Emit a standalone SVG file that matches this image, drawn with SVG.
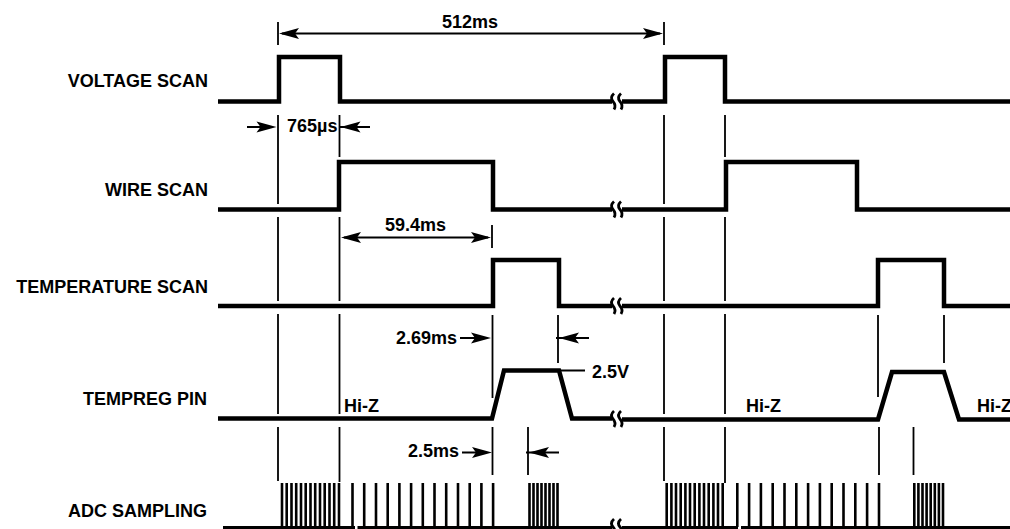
<svg xmlns="http://www.w3.org/2000/svg" width="1010" height="529" viewBox="0 0 1010 529">
<style>
text{font-family:"Liberation Sans",Arial,Helvetica,sans-serif;font-weight:bold;font-size:18px;fill:#000}
.lbl{text-anchor:end}
.sig{fill:none;stroke:#000;stroke-width:4.5;stroke-linejoin:miter;stroke-linecap:butt}
.adc{fill:none;stroke:#000;stroke-width:3}
.tick{fill:none;stroke:#000;stroke-width:2.6}
.guide{fill:none;stroke:#000;stroke-width:1.8}
.dim{fill:none;stroke:#000;stroke-width:2}
</style>
<defs>
<path id="ah" d="M0,0 L-20,-5.5 L-16,0 L-20,5.5 Z" fill="#000"/>
<path id="sq" d="M1,-8 q-4.5,4 -1,8 t1,8" fill="none" stroke="#000" stroke-width="2.8"/>
</defs>

<g id="labels">
<text class="lbl" x="208" y="87">VOLTAGE SCAN</text>
<text class="lbl" x="208" y="196">WIRE SCAN</text>
<text class="lbl" x="208" y="293">TEMPERATURE SCAN</text>
<text class="lbl" x="207" y="405">TEMPREG PIN</text>
<text class="lbl" x="207" y="517">ADC SAMPLING</text>
</g>

<g id="voltage-scan">
<path class="sig" d="M218,101.5 H279 V57 H340 V101.5 H612 M622,101.5 H665 V57 H725 V101.5 H1010"/>
<use href="#sq" x="613" y="101.5"/><use href="#sq" x="620" y="101.5"/>
</g>

<g id="wire-scan">
<path class="sig" d="M218,209.5 H339 V162 H493 V209.5 H612 M622,209.5 H726 V162 H857 V209.5 H1010"/>
<use href="#sq" x="613" y="209.5"/><use href="#sq" x="620" y="209.5"/>
</g>

<g id="temperature-scan">
<path class="sig" d="M218,306 H493 V260 H559 V306 H612 M622,306 H878 V260 H944 V306 H1010"/>
<use href="#sq" x="613" y="306"/><use href="#sq" x="620" y="306"/>
</g>

<g id="tempreg-pin">
<path class="sig" d="M218,418.5 H492 L504,370.5 H559 L572,418.5 H612 M622,419.5 H878 L892,372 H944 L959,419.5 H1010"/>
<use href="#sq" x="613" y="419"/><use href="#sq" x="620" y="419"/>
<text x="344" y="412">Hi-Z</text>
<text x="746" y="412">Hi-Z</text>
<text x="977" y="412">Hi-Z</text>
<path class="dim" d="M560,370.5 H585"/>
<text x="592" y="378">2.5V</text>
</g>

<g id="adc-sampling">
<path class="adc" d="M223,527.5 H355 M357.5,527.5 H612 M622,527.5 H738 M741,527.5 H1010"/>
<path class="tick" d="M282,483V527 M286.7,483V527 M291.5,483V527 M296.2,483V527 M301,483V527 M305.7,483V527 M310.5,483V527 M315.2,483V527 M320,483V527 M324.7,483V527 M329.5,483V527 M334.2,483V527 M339,483V527
M352.5,483V527 M364.2,483V527 M376,483V527 M387.7,483V527 M399.4,483V527 M411.1,483V527 M422.8,483V527 M434.5,483V527 M446.2,483V527 M458,483V527 M469.7,483V527 M481.4,483V527 M493.1,483V527
M529.5,483V527 M533.5,483V527 M537.5,483V527 M541.5,483V527 M545.5,483V527 M549.5,483V527 M553.5,483V527 M557.5,483V527
M666.7,483V527 M671.4,483V527 M676,483V527 M680.7,483V527 M685.4,483V527 M690,483V527 M694.7,483V527 M699.4,483V527 M704,483V527 M708.7,483V527 M713.4,483V527 M718,483V527 M722.7,483V527
M737.3,483V527 M749.1,483V527 M760.9,483V527 M772.7,483V527 M784.5,483V527 M796.3,483V527 M808.1,483V527 M819.9,483V527 M831.7,483V527 M843.5,483V527 M855.3,483V527 M867.1,483V527 M879,483V527
M914.3,483V527 M918.4,483V527 M922.5,483V527 M926.6,483V527 M930.7,483V527 M934.8,483V527 M938.9,483V527 M943,483V527"/>
<use href="#sq" x="613" y="527"/><use href="#sq" x="620" y="527"/>
</g>

<g id="connectors">
<path class="guide" d="M278,22V45 M664,22V45
M278,115V204 M278,217V301 M278,314V414 M278,427V481
M339.5,115V157 M339.5,217V301 M339.5,314V414 M339.5,427V482
M492,225V248 M492.5,315V398 M492.5,427V475 M558,315V363 M528,427V475
M664,115V204 M664,217V301 M664,314V414 M664,427V481
M725,115V157 M725,217V301 M725,314V414 M725,427V483
M878,315V397 M879,427V475 M944,315V363 M913.5,427V475"/>
<path class="dim" d="M282,33.5 H660 M247,127 H262 M340,127 H370 M344,237.5 H488 M460,338 H476 M556,338 H589 M462,452.5 H477 M526,452.5 H559"/>
<use href="#ah" transform="translate(279,33.5) scale(-1,1)"/>
<use href="#ah" transform="translate(663,33.5)"/>
<use href="#ah" transform="translate(276.5,127)"/>
<use href="#ah" transform="translate(340.5,127) scale(-1,1)"/>
<use href="#ah" transform="translate(341,237.5) scale(-1,1)"/>
<use href="#ah" transform="translate(491,237.5)"/>
<use href="#ah" transform="translate(491,338)"/>
<use href="#ah" transform="translate(559,338) scale(-1,1)"/>
<use href="#ah" transform="translate(492,452.5)"/>
<use href="#ah" transform="translate(529,452.5) scale(-1,1)"/>
<text x="470" y="28" text-anchor="middle">512ms</text>
<text x="287" y="132">765µs</text>
<text x="385" y="231">59.4ms</text>
<text x="396" y="344">2.69ms</text>
<text x="408" y="457">2.5ms</text>
</g>
</svg>
